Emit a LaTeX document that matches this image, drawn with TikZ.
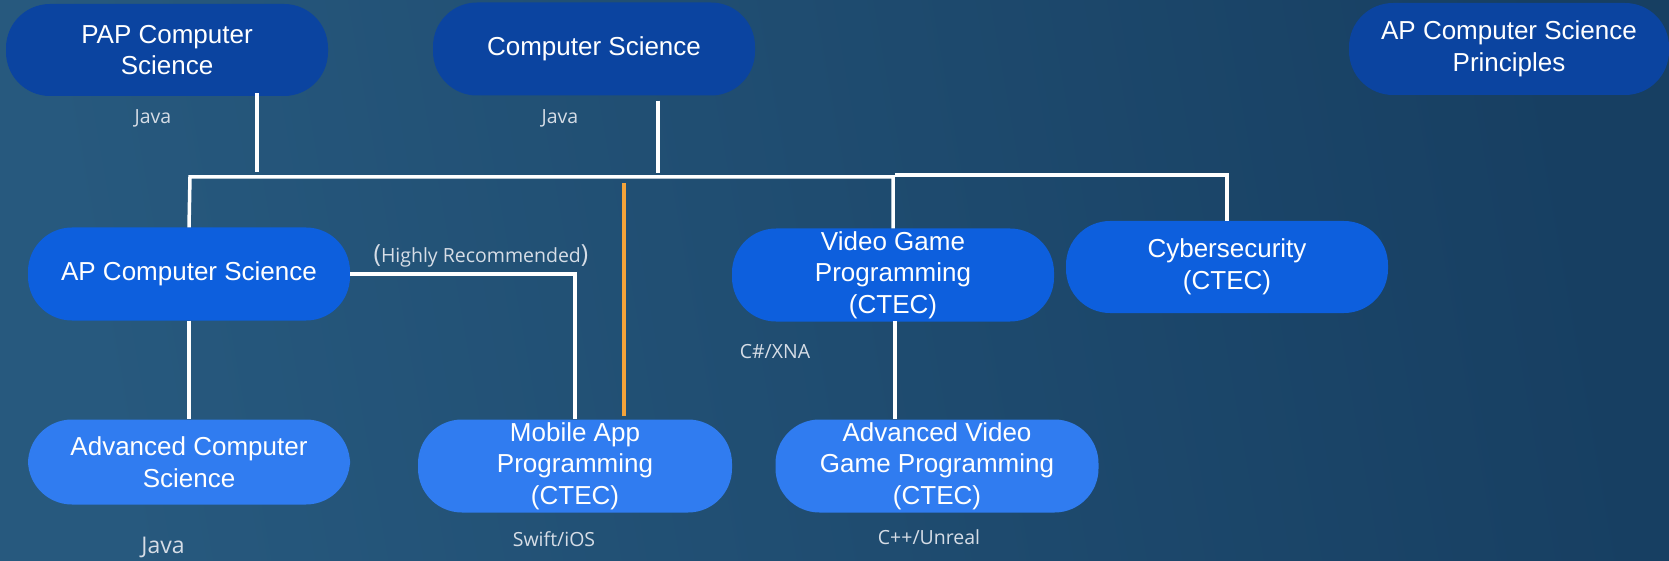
\documentclass[tikz,border=0pt]{standalone}
\usepackage{fontspec}
\setmainfont{Liberation Sans}
\newfontfamily\labelfont{Open Sans}
\definecolor{bgL}{HTML}{27597E}
\definecolor{bgR}{HTML}{173F62}
\definecolor{boxTop}{HTML}{0B44A0}
\definecolor{boxMid}{HTML}{0D5FDD}
\definecolor{boxLow}{HTML}{307CF0}
\definecolor{lbl}{HTML}{D6DDE6}
\definecolor{orangeline}{HTML}{F4A33A}
\begin{document}
\begin{tikzpicture}[x=1pt,y=-1pt,
  course/.style={rounded corners=44pt, inner sep=0pt, text=white, align=center,
    minimum width=322pt, minimum height=93pt,
    font=\fontsize{26}{31.5}\selectfont},
  toprow/.style={course, fill=boxTop},
  midrow/.style={course, fill=boxMid},
  lowrow/.style={course, fill=boxLow},
  lang/.style={text=lbl, inner sep=0pt, font=\labelfont\fontsize{19.5}{23}\selectfont},
  wire/.style={draw=white, line width=3.5pt},
  owire/.style={draw=orangeline, line width=3.5pt}]
\shade[left color=bgL, right color=bgR, shading angle=100] (0,0) rectangle (1669,561);
\useasboundingbox (0,0) rectangle (1669,561);

% top row
\node[toprow, minimum height=92pt] (pap) at (167,50) {PAP Computer\\Science};
\node[toprow] (cs) at (594,49) {Computer Science};
\node[toprow, minimum width=320pt, minimum height=92pt] (apcsp) at (1509,49) {AP Computer Science\\Principles};

% middle row
\node[midrow] (apcs) at (189,274) {AP Computer Science};
\node[midrow] (vgp) at (893,275) {Video Game\\Programming\\(CTEC)};
\node[midrow, minimum height=92pt] (cyber) at (1227,267) {Cybersecurity\\(CTEC)};

% bottom row
\node[lowrow, minimum height=85pt] (advcs) at (189,462) {Advanced Computer\\Science};
\node[lowrow, minimum width=314pt] (mobile) at (575,466) {Mobile App\\Programming\\(CTEC)};
\node[lowrow, minimum width=323pt] (advvgp) at (937,466) {Advanced Video\\Game Programming\\(CTEC)};

% language labels
\node[lang] (java1) at (153,118) {Java};
\node[lang] (java2) at (560,118) {Java};
\node[lang] (hr) at (481,256) {{\fontsize{25}{25}\selectfont(}Highly Recommended{\fontsize{25}{25}\selectfont)}};
\node[lang] (csx) at (775,352) {C\#/XNA};
\node[lang, font=\labelfont\fontsize{23}{27}\selectfont] (java3) at (163,547) {Java};
\node[lang] (swift) at (554,539) {Swift/iOS};
\node[lang] (cpp) at (929,537) {C++/Unreal};

% connectors
\coordinate (j1) at (257,172);
\coordinate (j2) at (658,173);
\coordinate (busL) at (190,177);
\coordinate (busR) at (893,177);
\coordinate (bus2L) at (895,175);
\coordinate (hrTurn) at (575,274);
\coordinate (oTop) at (624,183);
\coordinate (oBot) at (624,416);
\coordinate (vgpDown) at (895,321);

\draw[wire] ([yshift=3pt]pap.south -| j1) -- (j1);
\draw[wire] ([yshift=-5pt]cs.south -| j2) -- (j2);
\draw[wire] (apcs.north) -- (busL) -- (busR) -- (vgp.north);
\draw[wire] (bus2L) -- (cyber.north |- bus2L) -- (cyber.north);
\draw[wire] (apcs.east) -- (hrTurn) -- (mobile.north);
\draw[wire] (apcs.south) -- (advcs.north);
\draw[wire] (vgpDown) -- (advvgp.north -| vgpDown);
\draw[owire] (oTop) -- (oBot);
\end{tikzpicture}
\end{document}
